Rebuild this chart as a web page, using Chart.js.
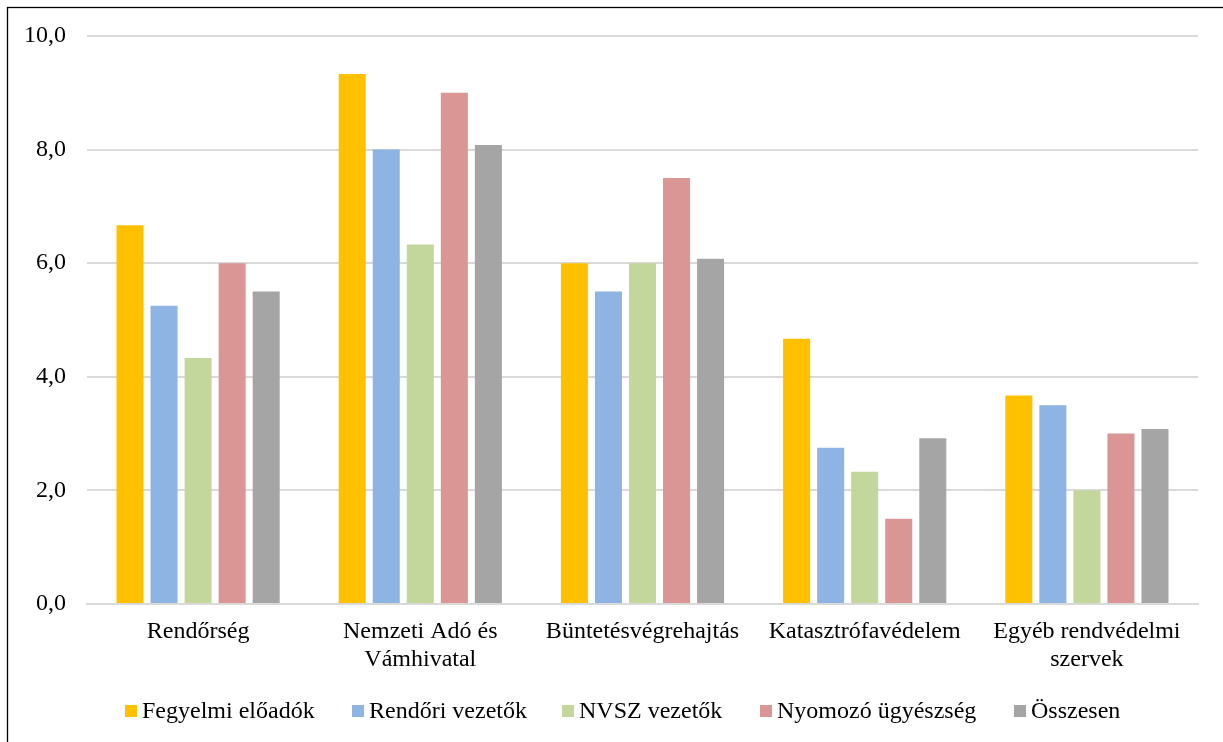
<!DOCTYPE html>
<html lang="hu">
<head>
<meta charset="utf-8">
<title>Rendvédelmi szervek</title>
<script src="https://cdn.jsdelivr.net/npm/chart.js@4/dist/chart.umd.min.js"></script>
<style>
  html, body { margin: 0; padding: 0; background: #fff; }
  #wrap { position: relative; width: 1223px; height: 742px; }
</style>
</head>
<body>
<div id="wrap"><canvas id="chart" width="1223" height="742"></canvas></div>
<script>
// categories (multi-line labels as arrays)
const categories = [
  'Rendőrség',
  ['Nemzeti Adó és', 'Vámhivatal'],
  'Büntetésvégrehajtás',
  'Katasztrófavédelem',
  ['Egyéb rendvédelmi', 'szervek']
];

const seriesNames = ['Fegyelmi előadók', 'Rendőri vezetők', 'NVSZ vezetők', 'Nyomozó ügyészség', 'Összesen'];
const seriesColors = ['#FFC000', '#8EB4E3', '#C3D69B', '#D99694', '#A5A5A5'];

const fegyelmiEloadok = [6.67, 9.33, 6.0, 4.67, 3.67];
const rendoriVezetok = [5.25, 8.0, 5.5, 2.75, 3.5];
const nvszVezetok = [4.33, 6.33, 6.0, 2.33, 2.0];
const nyomozoUgyeszseg = [6.0, 9.0, 7.5, 1.5, 3.0];
const osszesen = [5.5, 8.08, 6.08, 2.92, 3.08];

const yTicks = [0, 2, 4, 6, 8, 10];

const FONT = '"Liberation Serif", "Times New Roman", serif';
const seriesValues = [fegyelmiEloadok, rendoriVezetok, nvszVezetok, nyomozoUgyeszseg, osszesen];

// legend row + outer frame, drawn after the chart
const extras = {
  id: 'extras',
  afterDraw(chart, args, opts) {
    const ctx = chart.ctx;
    ctx.save();
    // outer frame (right/bottom edges fall just outside the canvas)
    ctx.strokeStyle = '#000';
    ctx.lineWidth = 1.3;
    ctx.strokeRect(7.5, 7.5, 1222, 742);

    // legend
    ctx.font = '24px ' + FONT;
    ctx.textBaseline = 'middle';
    ctx.textAlign = 'left';
    const y = opts.y;
    chart.data.datasets.forEach((ds, i) => {
      const x = opts.xs[i];
      ctx.fillStyle = ds.backgroundColor;
      ctx.fillRect(x, y - 6, 12, 12);
      ctx.fillStyle = '#000';
      ctx.fillText(ds.label, x + 17, y + 1);
    });
    ctx.restore();
  }
};

new Chart(document.getElementById('chart'), {
  type: 'bar',
  data: {
    labels: categories,
    datasets: seriesNames.map((name, i) => ({
      label: name,
      data: seriesValues[i],
      backgroundColor: seriesColors[i],
      borderWidth: 0,
      barPercentage: 0.794,
      categoryPercentage: 0.766
    }))
  },
  options: {
    responsive: false,
    animation: false,
    layout: { padding: { top: 36, right: 25, left: 0, bottom: 0 } },
    plugins: {
      legend: { display: false },
      tooltip: { enabled: false },
      extras: { y: 711, xs: [125, 352, 562, 760, 1014] }
    },
    scales: {
      x: {
        grid: { display: false, drawTicks: false },
        border: { display: true, color: '#d9d9d9', width: 2 },
        ticks: {
          color: '#000',
          font: { family: FONT, size: 24, lineHeight: 1.15 },
          padding: 14,
          maxRotation: 0,
          autoSkip: false
        },
        afterFit(scale) { scale.height = 138; }
      },
      y: {
        min: 0,
        max: 10,
        afterBuildTicks(scale) { scale.ticks = yTicks.map(v => ({ value: v })); },
        grid: { color: '#d9d9d9', lineWidth: 2, drawTicks: false },
        border: { display: false },
        ticks: {
          color: '#000',
          font: { family: FONT, size: 24 },
          padding: 21,
          callback: v => v.toFixed(1).replace('.', ',')
        },
        afterFit(scale) { scale.width = 87; }
      }
    }
  },
  plugins: [extras]
});
</script>
</body>
</html>
